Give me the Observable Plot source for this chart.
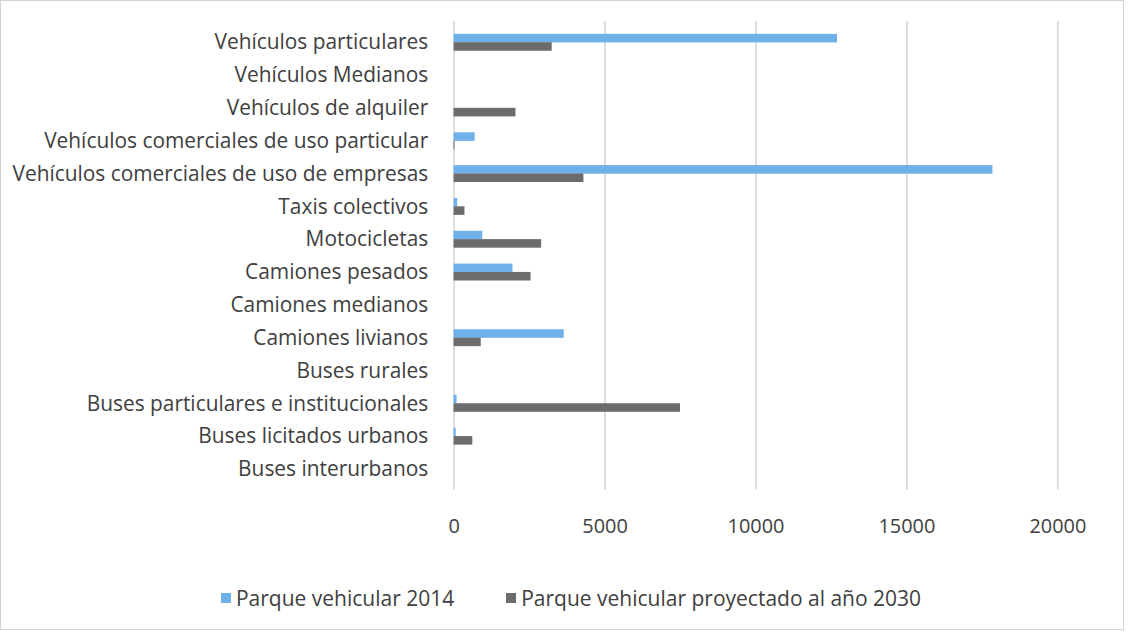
<!DOCTYPE html>
<html>
<head>
<meta charset="utf-8">
<script src="https://cdn.jsdelivr.net/npm/d3@7"></script>
<script src="https://cdn.jsdelivr.net/npm/@observablehq/plot@0.6"></script>
<style>
  html, body { margin: 0; padding: 0; background: #fff; }
  #wrap { position: relative; width: 1122px; height: 628px; border: 1px solid #d4d4d4; box-sizing: content-box; font-family: "Open Sans", sans-serif; color: #404040; }
  #legend { position: absolute; left: 0; top: 583px; width: 1140px; display: flex; justify-content: center; gap: 52px; font-size: 21px; color: #404040; }
  #legend .item { display: flex; align-items: center; gap: 5px; }
  #legend .sw { width: 10px; height: 10px; display: inline-block; }
</style>
</head>
<body>
<div id="wrap">
  <div id="chart"></div>
  <div id="legend"></div>
</div>
<script>
const categories = [
  "Vehículos particulares",
  "Vehículos Medianos",
  "Vehículos de alquiler",
  "Vehículos comerciales de uso particular",
  "Vehículos comerciales de uso de empresas",
  "Taxis colectivos",
  "Motocicletas",
  "Camiones pesados",
  "Camiones medianos",
  "Camiones livianos",
  "Buses rurales",
  "Buses particulares e institucionales",
  "Buses licitados urbanos",
  "Buses interurbanos"
];
const series = ["Parque vehicular 2014", "Parque vehicular proyectado al año 2030"];
const values2014 = [12700, 0, 0, 700, 17850, 120, 950, 1950, 0, 3650, 0, 100, 70, 0];
const values2030 = [3250, 0, 2050, 30, 4300, 360, 2900, 2550, 0, 900, 0, 7500, 620, 0];
const xTicks = [0, 5000, 10000, 15000, 20000];
const colors = ["#6eb0ea", "#6c6c6e"];

const d2014 = categories.map((c, i) => ({category: c, value: values2014[i]}));
const d2030 = categories.map((c, i) => ({category: c, value: values2030[i]}));

const chart = Plot.plot({
  width: 1128,
  height: 560,
  marginLeft: 455,
  marginRight: 66,
  marginTop: 20,
  marginBottom: 69,
  style: {fontFamily: "'Open Sans', sans-serif", fontSize: "20px", color: "#404040", background: "transparent"},
  x: {domain: [0, 20000], ticks: xTicks, label: null},
  y: {domain: categories, paddingInner: 0.5, paddingOuter: 0.25, label: null},
  marks: [
    Plot.ruleX(xTicks, {stroke: "#d2d2d2", strokeWidth: 1.5}),
    Plot.barX(d2014, {x: "value", y: "category", fill: colors[0], insetBottom: 8.4}),
    Plot.barX(d2030, {x: "value", y: "category", fill: colors[1], insetTop: 8.4}),
    Plot.axisX({ticks: xTicks, tickSize: 0, tickPadding: 29, tickFormat: d => String(d), fontSize: 20, fill: "#404040", label: null}),
    Plot.axisY({tickSize: 0, tickPadding: 26, fontSize: 21, fill: "#404040", label: null})
  ]
});
document.getElementById("chart").appendChild(chart);

const legend = document.getElementById("legend");
series.forEach((s, i) => {
  const item = document.createElement("div");
  item.className = "item";
  const sw = document.createElement("span");
  sw.className = "sw";
  sw.style.background = colors[i];
  const t = document.createElement("span");
  t.textContent = s;
  item.appendChild(sw);
  item.appendChild(t);
  legend.appendChild(item);
});
</script>
</body>
</html>
